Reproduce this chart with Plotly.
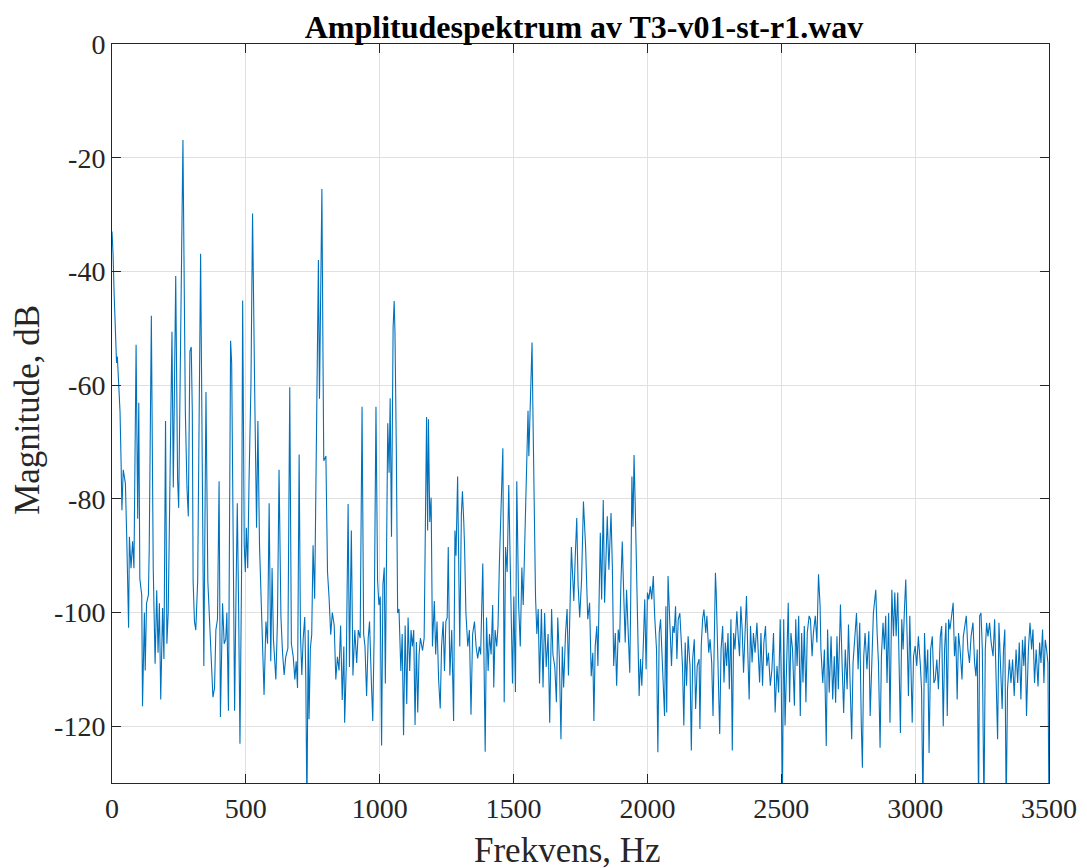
import plotly.graph_objects as go

# Frequency (Hz) and magnitude (dB)
freq_hz = [
    0, 4, 8, 12, 17, 20, 25, 30, 34, 37, 42, 50, 55, 58, 62, 65, 71, 77, 82, 90,
    96, 100, 104, 111, 114, 121, 124, 129, 136, 139, 147, 154, 161, 167, 172, 177, 182, 189, 194, 200,
    205, 210, 224, 229, 238, 245, 249, 265, 274, 280, 285, 291, 296, 300, 303, 308, 313, 320, 331, 343,
    351, 358, 366, 371, 377, 383, 388, 394, 400, 405, 413, 419, 425, 429, 435, 443, 447, 453, 458, 463,
    468, 473, 478, 484, 488, 494, 498, 502, 507, 512, 519, 525, 529, 534, 540, 545, 551, 557, 562, 568,
    575, 581, 587, 593, 598, 603, 612, 618, 624, 631, 637, 643, 649, 657, 664, 670, 677, 683, 688, 693,
    699, 704, 709, 714, 720, 724, 728, 733, 736, 741, 746, 751, 757, 771, 775, 779, 784, 788, 791, 799,
    805, 811, 817, 823, 830, 836, 842, 848,
    854, 860, 866, 869, 875, 882, 887, 894, 900, 907, 914, 920, 927, 934, 940, 945, 951, 957, 962, 969,
    974, 979, 986, 992, 997, 1002, 1007, 1012, 1017, 1021, 1026, 1030, 1035, 1039, 1044, 1050, 1054, 1057, 1062, 1067,
    1072, 1079, 1084, 1089, 1095, 1101, 1106, 1112, 1117, 1122, 1127, 1132, 1137, 1142, 1147, 1152, 1160, 1166, 1175, 1179,
    1182, 1187, 1192, 1197, 1204, 1209, 1214, 1220, 1226, 1231, 1237, 1242, 1247, 1252, 1256, 1262, 1269, 1276, 1281, 1285,
    1291, 1294, 1299, 1305, 1309, 1314, 1317, 1322, 1329, 1335, 1341, 1347, 1354, 1360, 1366, 1372, 1377, 1385, 1390, 1394,
    1399, 1405, 1410, 1416, 1422, 1426, 1431, 1437, 1442, 1447, 1460, 1465, 1470, 1476, 1482, 1487, 1492, 1496, 1501, 1507,
    1512, 1519, 1525, 1531, 1536, 1542, 1547, 1554, 1557, 1562, 1569, 1572, 1577, 1582, 1587, 1592, 1597, 1604, 1610, 1616,
    1622, 1629, 1635, 1642, 1647, 1654, 1660, 1665, 1671, 1677, 1682, 1687, 1694, 1700, 1705, 1710, 1716, 1720, 1725, 1730,
    1736, 1741, 1747, 1754,
    1761, 1769, 1777, 1784, 1790, 1796, 1800, 1805, 1811, 1815, 1824, 1829, 1835, 1840, 1845, 1850, 1856, 1864, 1869, 1874,
    1880, 1885, 1891, 1896, 1901, 1906, 1912, 1917, 1922, 1927, 1934, 1937, 1942, 1946, 1950, 1954, 1959, 1964, 1969, 1974,
    1979, 1984, 1990, 1995, 2000, 2005, 2011, 2016, 2022, 2027, 2034, 2039, 2044, 2049, 2054, 2059, 2064, 2069, 2072, 2077,
    2081, 2086, 2090, 2095, 2100, 2105, 2110, 2115, 2121, 2126, 2131, 2136, 2141, 2146, 2152, 2159, 2164, 2169, 2175, 2180,
    2186, 2193, 2196, 2201, 2206, 2211, 2218, 2222, 2229, 2234, 2240, 2245, 2250, 2254, 2257, 2262, 2267, 2270, 2275, 2281,
    2286, 2291, 2296, 2301, 2306, 2312, 2317, 2322, 2327, 2334, 2339, 2344, 2349, 2354, 2359, 2364, 2370, 2375, 2380, 2385,
    2391, 2396, 2402, 2409, 2414, 2419, 2424, 2430, 2435, 2441, 2446, 2452, 2459, 2465, 2471, 2477, 2484, 2490, 2496, 2500,
    2504, 2509, 2514, 2519, 2526, 2531, 2536, 2542, 2549, 2554, 2559, 2565, 2571, 2576, 2581, 2586, 2592, 2597, 2604, 2609,
    2615, 2620,
    2627, 2633, 2639, 2645, 2648, 2655, 2661, 2668, 2673, 2679, 2686, 2692, 2698, 2703, 2708, 2713, 2721, 2727, 2733, 2739,
    2746, 2751, 2757, 2763, 2768, 2774, 2781, 2787, 2793, 2799, 2803, 2808, 2813, 2820, 2827, 2832, 2838, 2844, 2848, 2853,
    2858, 2863, 2869, 2874, 2880, 2885, 2890, 2895, 2901, 2906, 2913, 2919, 2924, 2929, 2935, 2940, 2945, 2950, 2955, 2960,
    2965, 2970, 2975, 2980, 2985, 2989, 2994, 3000, 3006, 3012, 3019, 3024, 3029, 3035, 3041, 3047, 3052, 3058, 3064, 3070,
    3075, 3081, 3087, 3094, 3099, 3105, 3110, 3115, 3120, 3125, 3130, 3136, 3142, 3147, 3152, 3157, 3162, 3168, 3175, 3180,
    3186, 3191, 3197, 3203, 3209, 3216, 3222, 3227, 3232, 3237, 3241, 3246, 3251, 3257, 3262, 3267, 3272, 3278, 3284, 3291,
    3297, 3303, 3308, 3313, 3319, 3325, 3330, 3335, 3340, 3345, 3352, 3358, 3364, 3370, 3377, 3383, 3389, 3395, 3401, 3406,
    3411, 3416, 3423, 3429, 3435, 3440, 3446, 3452, 3459, 3465, 3470, 3476, 3481, 3486, 3491, 3496, 3500,
]

magnitude_db = [
    -33, -37, -44, -48.6, -56.1, -55, -60, -64.7, -73.7, -82, -74.9, -77.3, -86.7, -94.5, -102.7, -86.7, -92.2, -87.5, -92.2, -52.9,
    -83.5, -63.1, -94.1, -96.9, -116.5, -100, -110.2, -98.4, -96.9, -89, -47.8, -92.2, -109, -96.1, -107.1, -98.4, -115.3, -99.2, -108.2, -66.3,
    -105.5, -100, -50.6, -78, -40.8, -76.5, -81.6, -16.9, -64.7, -78, -83.1, -54.1, -53.3, -64.7, -94.5, -101.6, -103.1, -94.5, -36.9, -109.4,
    -61.2, -94.5, -103.1, -105.5, -114.9, -113.3, -103.1, -101.2, -76.9, -118.4, -98.4, -105.5, -104.7, -100, -117.3, -52.2, -56.1, -89, -117.3, -97.6,
    -80.8, -99.2, -123.1, -92.9, -45.1, -88.2, -92.9, -85.1, -92.2, -76.5, -60, -29.8, -42, -64.7, -85.1, -66.3, -88.2, -98.4, -103.9, -114.5,
    -101.6, -105.5, -80.8, -108.6, -92.2, -104.7, -111.8, -101.6, -74.9, -100.8, -107.1, -111, -107.8, -106.3, -60.4, -105.5, -107.8, -111.8, -108.6, -113.3,
    -72.2, -103.9, -111, -104.7, -100.8, -111.8, -135, -103.1, -118.8, -106.3, -103.9, -88.2, -97.6, -38, -62.4, -49, -25.5, -54.5, -73.3, -72.5,
    -92.9, -97.6, -103.9, -100, -102.3, -111.8, -107.8, -110.2,
    -102.3, -115.4, -106, -119.4, -109.6, -80.9, -109.6, -85.6, -111.1, -103.1, -108.9, -103.1, -104.5, -63.8, -103.8, -106, -114.7, -104.5, -101.6, -112.5,
    -119.1, -104.5, -63.8, -94.3, -98.7, -97.2, -123.4, -95.1, -92.1, -112.5, -79.1, -66.7, -75.4, -62.3, -86.7, -50, -45.2, -50.7, -71.1, -100.1,
    -99.4, -110.3, -103.8, -121.6, -102.3, -116.1, -100.9, -110.3, -103.1, -106, -103.1, -119.8, -105.2, -117.6, -107.4, -104.5, -106.7, -104.5, -65.6, -85.6,
    -66, -84.1, -79.8, -106, -98, -107.4, -101.6, -111.8, -116.9, -106, -101.6, -110.3, -101.6, -100.9, -88.5, -111.1, -103.1, -119.1, -85.6, -90,
    -76.1, -91.4, -106, -82.7, -78.7, -84.1, -88.5, -100.1, -106, -103.1, -118, -103.8, -101.6, -106, -108.1, -106, -107.4, -91.4, -106, -124.5,
    -100.9, -110.3, -103.8, -107.4, -98.7, -113.2, -103.1, -106, -102.3, -91.4, -71.1, -115.8, -88.5, -92.9, -77.6, -91.4, -106, -112.5, -97.2, -114,
    -76.9, -98.7, -106, -92.1, -98.7, -88.5, -76.9, -64.5, -72.5, -63.8, -52.5, -63.8, -87.1, -97.2, -103.8, -99.4, -112.5, -99.4, -113.2, -100.1,
    -109.6, -103.8, -119.4, -99.4, -107.4, -109.6, -115.8, -100.9, -108.1, -122.3, -106, -113.2, -103.8, -99.4, -111.1, -98.7, -88.5, -92.9, -98, -90.7,
    -83.4, -95.1, -100.9, -94.3,
    -80.5, -88.4, -101.2, -98.3, -111.2, -107.1, -119.1, -105.9, -102.4, -109.4, -86, -97.7, -80.2, -98.3, -89.5, -83.1, -92.5, -82.5, -91.9, -109.4,
    -103.6, -112.9, -103, -105.3, -94.8, -87.5, -97.7, -105.3, -96, -103.6, -110.6, -100.1, -76.1, -84.9, -72.3, -80.2, -91.9, -101.2, -114.7, -108.2,
    -112.9, -106.5, -97.7, -110, -96.5, -97.7, -95.4, -97.7, -93.6, -100.6, -106.5, -124.6, -103.6, -101.2, -107.1, -113.5, -118.2, -98.9, -117.6, -93.6,
    -98.3, -103.6, -109.4, -102.4, -103.6, -98.9, -108.2, -101.2, -100.1, -104.7, -109.4, -119.9, -105.3, -112.9, -104.2, -109.4, -124.3, -108.2, -104.7, -117,
    -109.4, -108.2, -120.5, -105.9, -101.2, -99.5, -103.6, -100.6, -107.1, -104.7, -108.8, -118.2, -104.7, -93, -96.5, -107.1, -111.8, -121.4, -106.5, -102.4,
    -112.3, -105.3, -109.4, -103.6, -113.5, -101.2, -124.3, -103.6, -106.5, -99.8, -104.2, -107.7, -98.9, -103, -110.6, -104.7, -97.1, -107.1, -115.3, -102.4,
    -108.8, -103.6, -107.1, -101.8, -108.2, -112.3, -103.6, -112.9, -105.3, -102.4, -109.4, -107.1, -112.9, -110, -103.6, -117.6, -109.4, -114.1, -101.2, -112.3,
    -135, -101.2, -119.9, -109.4, -98.3, -115.8, -103.6, -106.5, -116.4, -101.2, -109.4, -100.6, -118.2, -103.6, -112.3, -102.4, -115.8, -103.6, -100.6, -101.2,
    -107.7, -103.6,
    -100.6, -105.3, -93.3, -98.9, -106.5, -112.4, -106.5, -123.5, -103, -114.1, -104.2, -115.3, -107.7, -115.9, -104.2, -113.5, -98.6, -108.9, -117.7, -106.5,
    -113.5, -102.1, -114.7, -122.3, -108.9, -104.2, -100.1, -110, -101.8, -120, -127.3, -107.7, -103.6, -110, -103.3, -118.2, -106.5, -100.1, -98.3, -96,
    -103.6, -108.9, -123.8, -107.7, -101.8, -106.5, -100.6, -112.4, -100.1, -119.4, -96, -104.2, -96.5, -104.2, -96.5, -108.9, -121.2, -101.2, -106.5, -99.5,
    -94.2, -104.2, -114.7, -100.6, -108.9, -119.4, -107.7, -105.9, -109.4, -104.2, -108.9, -113.5, -135, -103.6, -112.4, -106.5, -124.7, -106.5, -104.2, -112.4,
    -111.8, -108.3, -113.5, -104.2, -102.4, -120, -106.5, -101.8, -118.2, -101.2, -103, -100.6, -98.3, -107.7, -104.2, -115.3, -103.6, -106.5, -111.8, -104.2,
    -102.4, -100.6, -106.5, -108.9, -104.2, -101.8, -108.9, -111.2, -106.5, -135, -100.6, -100.1, -106.5, -135, -106.5, -101.8, -104.2, -101.8, -105.3, -107.7,
    -101.2, -114.7, -122.3, -101.8, -109.4, -117, -106.5, -103, -135, -113.5, -108.3, -112.4, -108.3, -114.7, -106.5, -112.4, -105.3, -115.3, -104.8, -109.4,
    -104.2, -118.2, -106.5, -101.8, -106.5, -103, -112.4, -106.5, -113, -105.3, -108.9, -103, -112.4, -104.8, -106.5, -108.9, -135,
]

x_ticks = [0, 500, 1000, 1500, 2000, 2500, 3000, 3500]
y_ticks = [0, -20, -40, -60, -80, -100, -120]
y_tick_labels = ["0", "-20", "-40", "-60", "-80", "-100", "-120"]

title_text = "Amplitudespektrum av T3-v01-st-r1.wav"
x_title = "Frekvens, Hz"
y_title = "Magnitude, dB"

font_family = "Liberation Serif, Times New Roman, serif"
axis_color = "#262626"
grid_color = "#e0e0e0"

fig = go.Figure(
    go.Scatter(
        x=freq_hz,
        y=magnitude_db,
        mode="lines",
        line=dict(color="#0072BD", width=1.1),
        hoverinfo="x+y",
    )
)

fig.update_layout(
    width=1087,
    height=868,
    margin=dict(l=104, r=46, t=36, b=93),
    paper_bgcolor="white",
    plot_bgcolor="white",
    showlegend=False,
    font=dict(family=font_family, color=axis_color, size=28),
    title=dict(
        text="<b>" + title_text + "</b>",
        x=576 / 1087,
        xanchor="center",
        y=1 - 19 / 868,
        yanchor="middle",
        font=dict(family=font_family, size=32, color="#000000"),
    ),
    annotations=[
        dict(
            text=x_title, xref="paper", yref="paper", x=0.4856, y=-0.0907,
            xanchor="center", yanchor="middle", showarrow=False,
            font=dict(size=35, family=font_family, color=axis_color),
        ),
        dict(
            text=y_title, xref="paper", yref="paper", x=-0.0896, y=0.505,
            xanchor="center", yanchor="middle", showarrow=False, textangle=-90,
            font=dict(size=35, family=font_family, color=axis_color),
        ),
    ],
)

fig.update_xaxes(
    range=[0, 3500],
    tickvals=x_ticks,
    ticktext=[str(v) for v in x_ticks],
    showgrid=True,
    gridcolor=grid_color,
    gridwidth=1,
    zeroline=False,
    showline=True,
    linecolor=axis_color,
    linewidth=1,
    mirror="ticks",
    ticks="inside",
    ticklen=9,
    tickcolor=axis_color,
    tickfont=dict(size=28, family=font_family, color=axis_color),
    automargin=False,
)

fig.update_yaxes(
    range=[-130, 0],
    tickvals=y_ticks,
    ticktext=y_tick_labels,
    showgrid=True,
    gridcolor=grid_color,
    gridwidth=1,
    zeroline=False,
    showline=True,
    linecolor=axis_color,
    linewidth=1,
    mirror="ticks",
    ticks="inside",
    ticklen=9,
    tickcolor=axis_color,
    tickfont=dict(size=28, family=font_family, color=axis_color),
    automargin=False,
)

fig.write_html("out.html")
